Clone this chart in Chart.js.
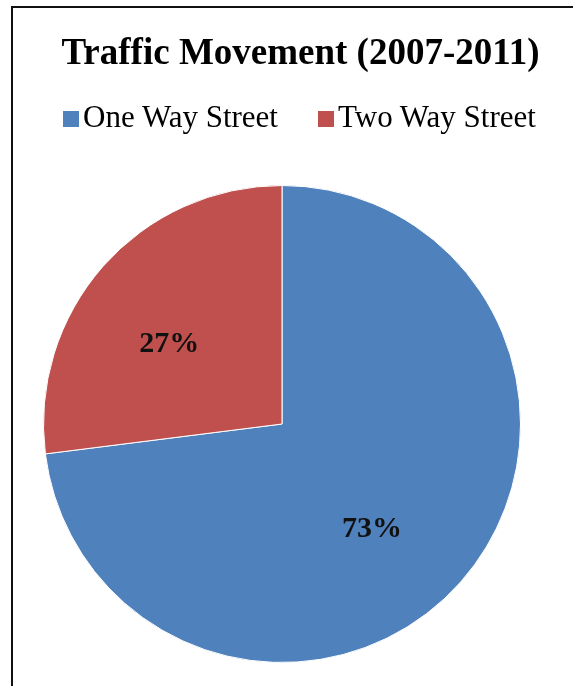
<!DOCTYPE html>
<html>
<head>
<meta charset="utf-8">
<title>Traffic Movement (2007-2011)</title>
<script src="https://cdn.jsdelivr.net/npm/chart.js@4/dist/chart.umd.min.js"></script>
<style>
  html, body { margin: 0; padding: 0; background: #fff; }
  #page { position: relative; width: 573px; height: 686px; overflow: hidden; }
  #frame {
    position: absolute; left: 11px; top: 6px; right: 0; bottom: 0;
    border-top: 2px solid #111; border-left: 2px solid #111;
  }
  #pie { position: absolute; left: 0; top: 0; }
  #title {
    position: absolute; left: 28px; right: 0; top: 32px;
    text-align: center; white-space: nowrap;
    font: bold 37px/40px "Liberation Serif", "Times New Roman", serif;
    color: #000;
  }
  #legend {
    position: absolute; left: 26px; right: 0; top: 100px;
    text-align: center; white-space: nowrap;
    font: 31px/34px "Liberation Serif", "Times New Roman", serif;
    color: #000;
  }
  #legend .item { display: inline-block; margin: 0 20px; }
  #legend .box {
    display: inline-block; width: 16px; height: 16px;
    margin-right: 4px; vertical-align: baseline;
  }
</style>
</head>
<body>
<div id="page">
  <canvas id="pie" width="573" height="686"></canvas>
  <div id="frame"></div>
  <div id="title"></div>
  <div id="legend"></div>
</div>
<script>
// 데이터
const TITLE    = 'Traffic Movement (2007-2011)';
const STREETS  = ['One Way Street', 'Two Way Street'];
const SHARES   = [73, 27];
const COLORS   = ['#4f81bd', '#c0504d'];

const SERIF = "'Liberation Serif', 'Times New Roman', serif";

document.getElementById('title').textContent = TITLE;

// 범례 (HTML)
const legendEl = document.getElementById('legend');
STREETS.forEach((name, i) => {
  const item = document.createElement('span');
  item.className = 'item';
  const box = document.createElement('span');
  box.className = 'box';
  box.style.background = COLORS[i];
  item.appendChild(box);
  item.appendChild(document.createTextNode(name));
  legendEl.appendChild(item);
});

// 조각 안쪽에 퍼센트 표시
const sliceLabels = {
  id: 'sliceLabels',
  afterDatasetsDraw(chart, _args, opts) {
    const { ctx } = chart;
    const meta = chart.getDatasetMeta(0);
    const values = chart.data.datasets[0].data;
    ctx.save();
    ctx.font = `bold ${opts.size}px ${SERIF}`;
    ctx.fillStyle = opts.color;
    ctx.textAlign = 'center';
    ctx.textBaseline = 'middle';
    meta.data.forEach((arc, i) => {
      const { x, y, startAngle, endAngle, outerRadius } = arc.getProps(
        ['x', 'y', 'startAngle', 'endAngle', 'outerRadius'], true);
      const mid = (startAngle + endAngle) / 2 + (opts.turn[i] || 0) * Math.PI / 180;
      const d = outerRadius * opts.radius;
      ctx.fillText(`${values[i]}%`, x + Math.cos(mid) * d, y + Math.sin(mid) * d);
    });
    ctx.restore();
  },
};

new Chart(document.getElementById('pie'), {
  type: 'pie',
  data: {
    labels: STREETS,
    datasets: [{
      data:            SHARES,
      backgroundColor: COLORS,
      borderColor:     '#ffffff',
      borderWidth:     1,
    }],
  },
  options: {
    responsive: false,
    animation:  false,
    layout: { padding: { left: 43, right: 52, top: 185, bottom: 23 } },
    plugins: {
      legend:  { display: false },
      title:   { display: false },
      tooltip: { enabled: false },
      sliceLabels: { size: 30, color: '#111', radius: 0.58, turn: [8, -6] },
    },
  },
  plugins: [sliceLabels],
});
</script>
</body>
</html>
